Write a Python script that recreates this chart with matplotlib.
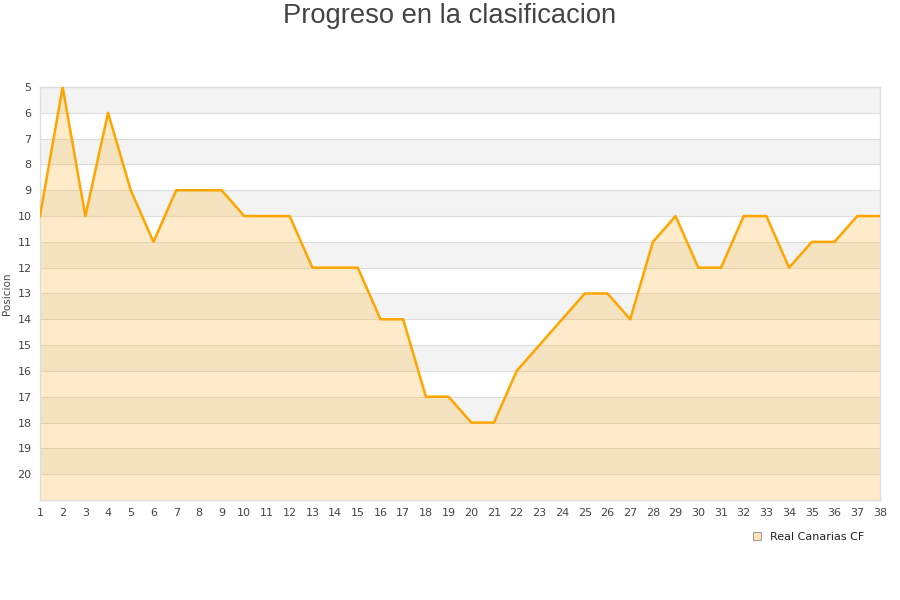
import matplotlib
matplotlib.use("Agg")
import matplotlib.pyplot as plt
from matplotlib.patches import Patch

jornadas = list(range(1, 39))
posiciones = [10, 5, 10, 6, 9, 11, 9, 9, 9, 10,
              10, 10, 12, 12, 12, 14, 14, 17, 17, 18,
              18, 16, 15, 14, 13, 13, 14, 11, 10, 12,
              12, 10, 10, 12, 11, 11, 10, 10]
equipo = "Real Canarias CF"
titulo = "Progreso en la clasificacion"

color_linea = "#ffa500"

fig = plt.figure(figsize=(9, 6), dpi=100)
ax = fig.add_axes([0.0444, 0.1667, 0.9333, 0.6883])

# bandas alternas de fondo
for k in range(5, 21):
    if k % 2 == 1:
        ax.axhspan(k, k + 1, color="#f3f3f3", lw=0, zorder=0)
for k in range(6, 21):
    ax.axhline(k, color="#dddddd", lw=0.8, zorder=1)

ax.fill_between(jornadas, posiciones, 21, color=color_linea, alpha=0.21, lw=0, zorder=2)
ax.plot(jornadas, posiciones, color=color_linea, lw=1.8, zorder=3)

ax.set_xlim(1, 38)
ax.set_ylim(21, 5)
ax.set_xticks(jornadas)
ax.set_yticks(range(5, 21))
ax.tick_params(axis="both", length=0, labelsize=8, colors="#444444", pad=6)
for s in ax.spines.values():
    s.set_color("#dddddd")
    s.set_linewidth(1)

ax.set_ylabel("Posicion", fontsize=7.5, color="#444444", labelpad=4)
fig.text(0.5, 0.974, titulo, ha="center", va="center", fontsize=19.7,
         color="#444444", family="Liberation Sans")

handle = Patch(facecolor="#fde3b5", edgecolor="#888888", lw=0.6)
fig.legend([handle], [equipo], loc="center left", bbox_to_anchor=(0.825, 0.105),
           frameon=False, fontsize=8, handlelength=0.8, handleheight=0.8,
           handletextpad=0.8, labelcolor="#222222")

fig.savefig("out.png", dpi=100)
